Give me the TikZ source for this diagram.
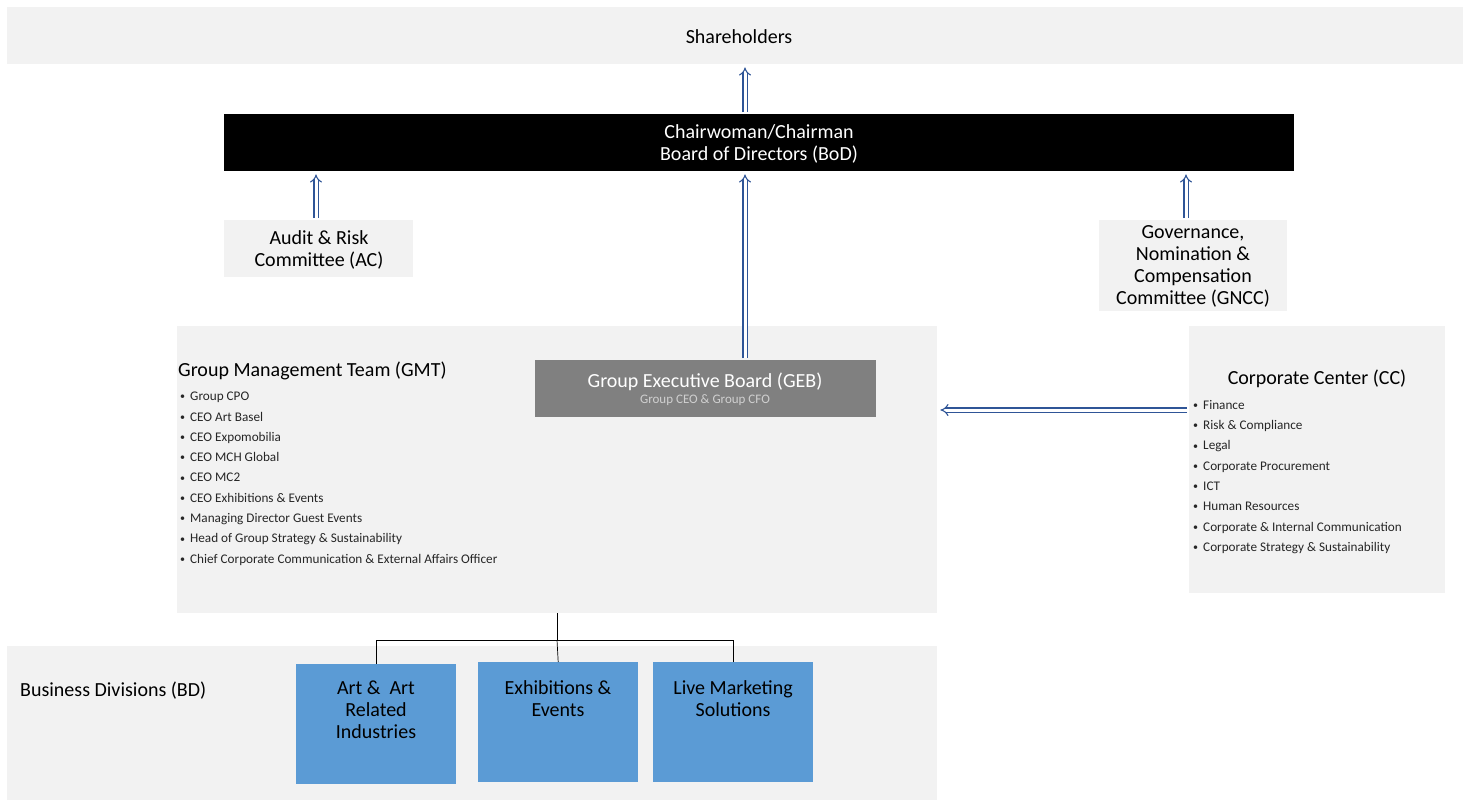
\documentclass[tikz,border=0pt]{standalone}
\usepackage{fontspec}
\setmainfont{Carlito}
\usetikzlibrary{arrows.meta}
\definecolor{boxgray}{HTML}{F2F2F2}
\definecolor{gebgray}{HTML}{808080}
\definecolor{subgray}{HTML}{D0D0D0}
\definecolor{divblue}{HTML}{5B9BD5}
\definecolor{arrowblue}{HTML}{2F5597}
\newcommand{\bul}{\makebox[10pt][l]{\fontsize{10}{10}\selectfont\raisebox{0.8pt}{•}}}
\tikzset{
  panel/.style={fill=boxgray, draw=none, anchor=north west, inner sep=0pt},
  divbox/.style={fill=divblue, draw=none, anchor=north west, inner sep=0pt, minimum width=160pt, minimum height=120pt},
  uparrow/.style={draw=arrowblue, line width=1.1pt, double=white, double distance=3pt, -{Implies[length=4pt]}, shorten >=3pt, shorten <=2pt},
  bigtxt/.style={font=\fontsize{20}{22}\selectfont, align=center, inner sep=0pt},
  listtxt/.style={font=\fontsize{13.2}{20.3}\selectfont, align=left, anchor=north west, inner sep=0pt, text=black!85},
  tree/.style={draw=black, line width=0.7pt}
}
\begin{document}
\begin{tikzpicture}[x=1pt,y=-1pt]
\useasboundingbox (0,0) rectangle (1464,801);
% panels
\node[panel, minimum width=1456pt, minimum height=57pt] (sh) at (7,7) {};
\node[bigtxt] at (739,36.5) {Shareholders};
\node[fill=black, anchor=north west, inner sep=0pt, minimum width=1070pt, minimum height=57pt] (bod) at (224,114) {};
\node[bigtxt, text=white] at (759,143.5) {Chairwoman/Chairman\\Board of Directors (BoD)};
\node[panel, minimum width=189pt, minimum height=57pt] (ac) at (224,220) {};
\node[bigtxt] at (319,249.5) {Audit \& Risk\\Committee (AC)};
\node[panel, minimum width=188pt, minimum height=91pt] (gncc) at (1099,220) {};
\node[bigtxt] at (1193,266.5) {Governance,\\Nomination \&\\Compensation\\Committee (GNCC)};
\node[panel, minimum width=760pt, minimum height=287pt] (gmt) at (177,326) {};
\node[bigtxt, anchor=west] at (178,370.5) {Group Management Team (GMT)};
\node[listtxt] at (180,392) {\bul Group CPO\\\bul CEO Art Basel\\\bul CEO Expomobilia\\\bul CEO MCH Global\\\bul CEO MC2\\\bul CEO Exhibitions \& Events\\\bul Managing Director Guest Events\\\bul Head of Group Strategy \& Sustainability\\\bul Chief Corporate Communication \& External Affairs Officer};
\node[fill=gebgray, anchor=north west, inner sep=0pt, minimum width=341pt, minimum height=57pt] (geb) at (535,360) {};
\node[font=\fontsize{20}{22}\selectfont, text=white, inner sep=0pt] at (705,382) {Group Executive Board (GEB)};
\node[font=\fontsize{13}{14}\selectfont, text=subgray, inner sep=0pt] at (705,400.5) {Group CEO \& Group CFO};
\node[panel, minimum width=256pt, minimum height=267pt] (cc) at (1189,326) {};
\node[bigtxt] at (1317,378.5) {Corporate Center (CC)};
\node[listtxt] at (1193,400) {\bul Finance\\\bul Risk \& Compliance\\\bul Legal\\\bul Corporate Procurement\\\bul ICT\\\bul Human Resources\\\bul Corporate \& Internal Communication\\\bul Corporate Strategy \& Sustainability};
\node[panel, minimum width=930pt, minimum height=154pt] (bd) at (7,646) {};
\node[bigtxt, anchor=west] at (20,691) {Business Divisions (BD)};
\node[divbox] (art) at (296,664) {};
\node[divbox] (exh) at (478,662) {};
\node[divbox] (live) at (653,662) {};
\node[bigtxt, anchor=north] at (376,681) {Art \&\ \ Art\\Related\\Industries};
\node[bigtxt, anchor=north] at (558,680) {Exhibitions \&\\Events};
\node[bigtxt, anchor=north] at (733,680) {Live Marketing\\Solutions};
% arrows
\draw[uparrow] (bod.north -| 745,0) -- (sh.south -| 745,0);
\draw[uparrow] (ac.north -| 316,0) -- (bod.south -| 316,0);
\draw[uparrow] (gncc.north -| 1186,0) -- (bod.south -| 1186,0);
\draw[uparrow] (geb.north -| 745,0) -- (bod.south -| 745,0);
\draw[uparrow] (cc.west |- 0,410) -- (gmt.east |- 0,410);
% tree
\coordinate (jn) at (557,640);
\draw[tree] (gmt.south -| jn) -- (jn);
\draw[tree] (art.north) |- (jn);
\draw[tree] (jn) -- (exh.north);
\draw[tree] (live.north) |- (jn);
\end{tikzpicture}
\end{document}
